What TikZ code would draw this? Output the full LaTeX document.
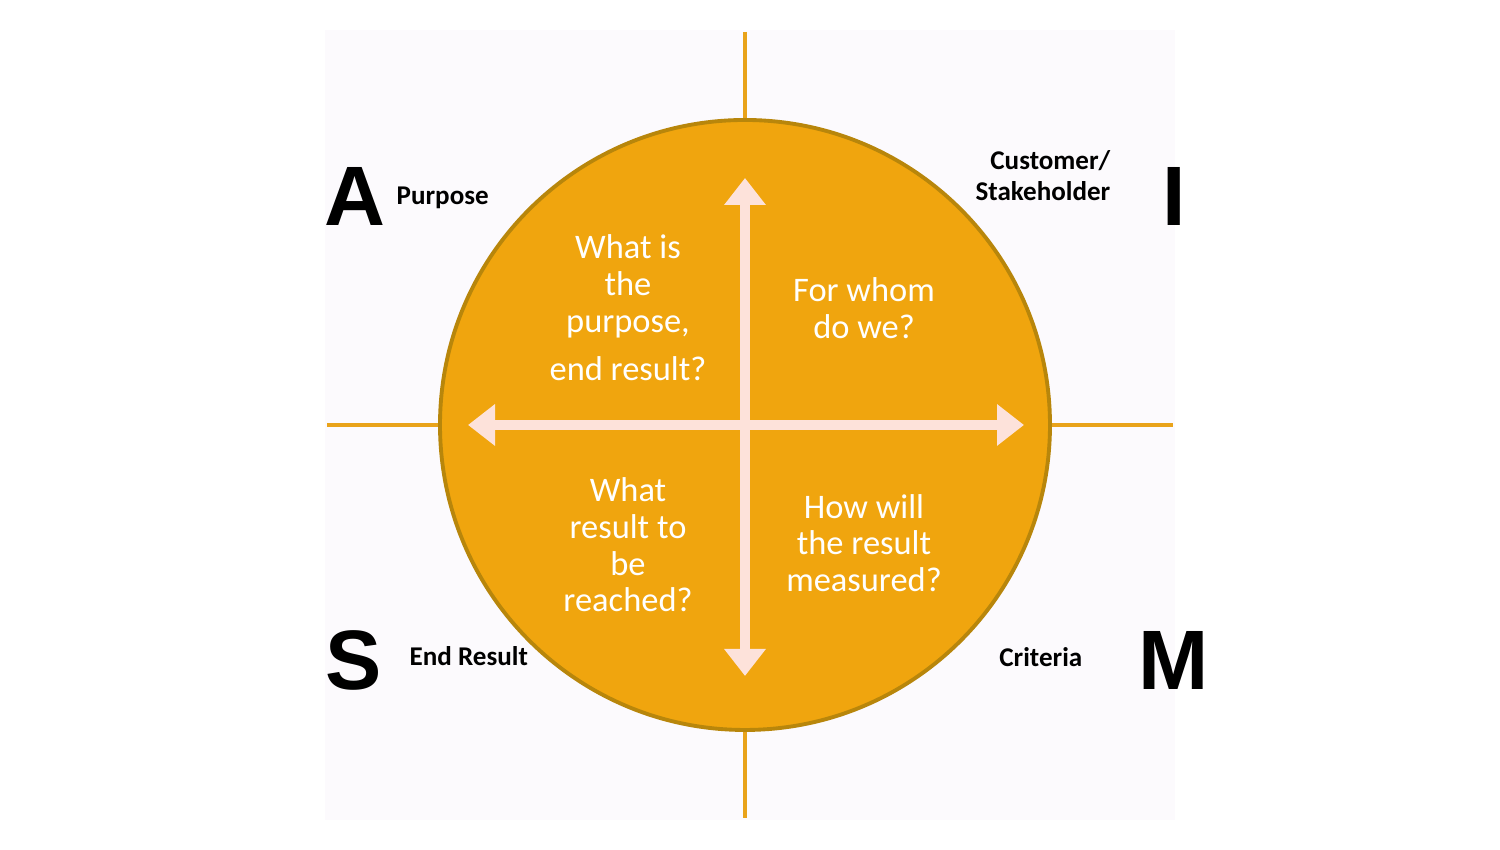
\documentclass[tikz,border=0pt]{standalone}
\usepackage{fontspec}
\setmainfont{Carlito}
\newfontfamily\arialfont{Liberation Sans}
\usepackage{tikz}
\usetikzlibrary{arrows.meta}

\definecolor{smartorange}{HTML}{F0A50E}
\definecolor{smartedge}{HTML}{B8860B}
\definecolor{smartline}{HTML}{E9A31A}
\definecolor{smartpink}{HTML}{FDE2DA}
\definecolor{smartback}{HTML}{FCFAFD}

\tikzset{
  quadtext/.style={text=white, align=center, font=\fontsize{9.8}{10.4}\selectfont, inner sep=0pt},
  sidelabel/.style={text=black, font=\bfseries\fontsize{7.7}{8.8}\selectfont, inner sep=0pt},
  bigletter/.style={text=black, font=\arialfont\bfseries\fontsize{24}{24}\selectfont, inner sep=0pt},
  axisline/.style={draw=smartline, line width=0.9pt},
  twoway/.style={draw=smartpink, line width=2.8pt, {Triangle[width=0.4cm,length=0.27cm]}-{Triangle[width=0.4cm,length=0.27cm]}}
}

\begin{document}
\begin{tikzpicture}
\def\cx{7.45}
\def\cy{4.25}
\def\rad{3.05}

\useasboundingbox (0,0) rectangle (15,8.5);
\fill[smartback] (3.25,0.30) rectangle (11.75,8.20);

% cross lines behind the circle
\coordinate (ltop) at (\cx,8.18);
\coordinate (lbot) at (\cx,0.32);
\coordinate (lleft) at (3.27,\cy);
\coordinate (lright) at (11.73,\cy);
\draw[axisline] (ltop) -- (lbot);
\draw[axisline] (lleft) -- (lright);

\node[circle, minimum size=2*\rad cm, fill=smartorange, draw=smartedge, line width=1.1pt] (disc) at (\cx,\cy) {};

% arrows inside
\coordinate (atop) at (\cx,6.72);
\coordinate (abot) at (\cx,1.74);
\coordinate (aleft) at (4.68,\cy);
\coordinate (aright) at (10.24,\cy);
\draw[twoway] (abot) -- (atop);
\draw[twoway] (aleft) -- (aright);

\node[quadtext] (purposeq) at (6.28,5.42) {What is\\the\\purpose,\\[0.12cm]end result?};
\node[quadtext] (whomq) at (8.64,5.42) {For whom\\do we?};
\node[quadtext] (resultq) at (6.28,3.05) {What\\result to\\be\\reached?};
\node[quadtext] (measureq) at (8.64,3.07) {How will\\the result\\measured?};

\node[bigletter] (letA) at (3.55,6.53) {A};
\node[bigletter] (letI) at (11.74,6.53) {I};
\node[bigletter] (letS) at (3.54,1.90) {S};
\node[bigletter] (letM) at (11.74,1.89) {M};

\node[sidelabel, anchor=west] (purpose) at (3.96,6.52) {Purpose};
\node[sidelabel, anchor=east, align=right] (customer) at (11.11,6.74) {Customer/\\Stakeholder};
\node[sidelabel, anchor=west] (endresult) at (4.09,1.94) {End Result};
\node[sidelabel, anchor=east] (criteria) at (10.83,1.93) {Criteria};
\end{tikzpicture}
\end{document}
